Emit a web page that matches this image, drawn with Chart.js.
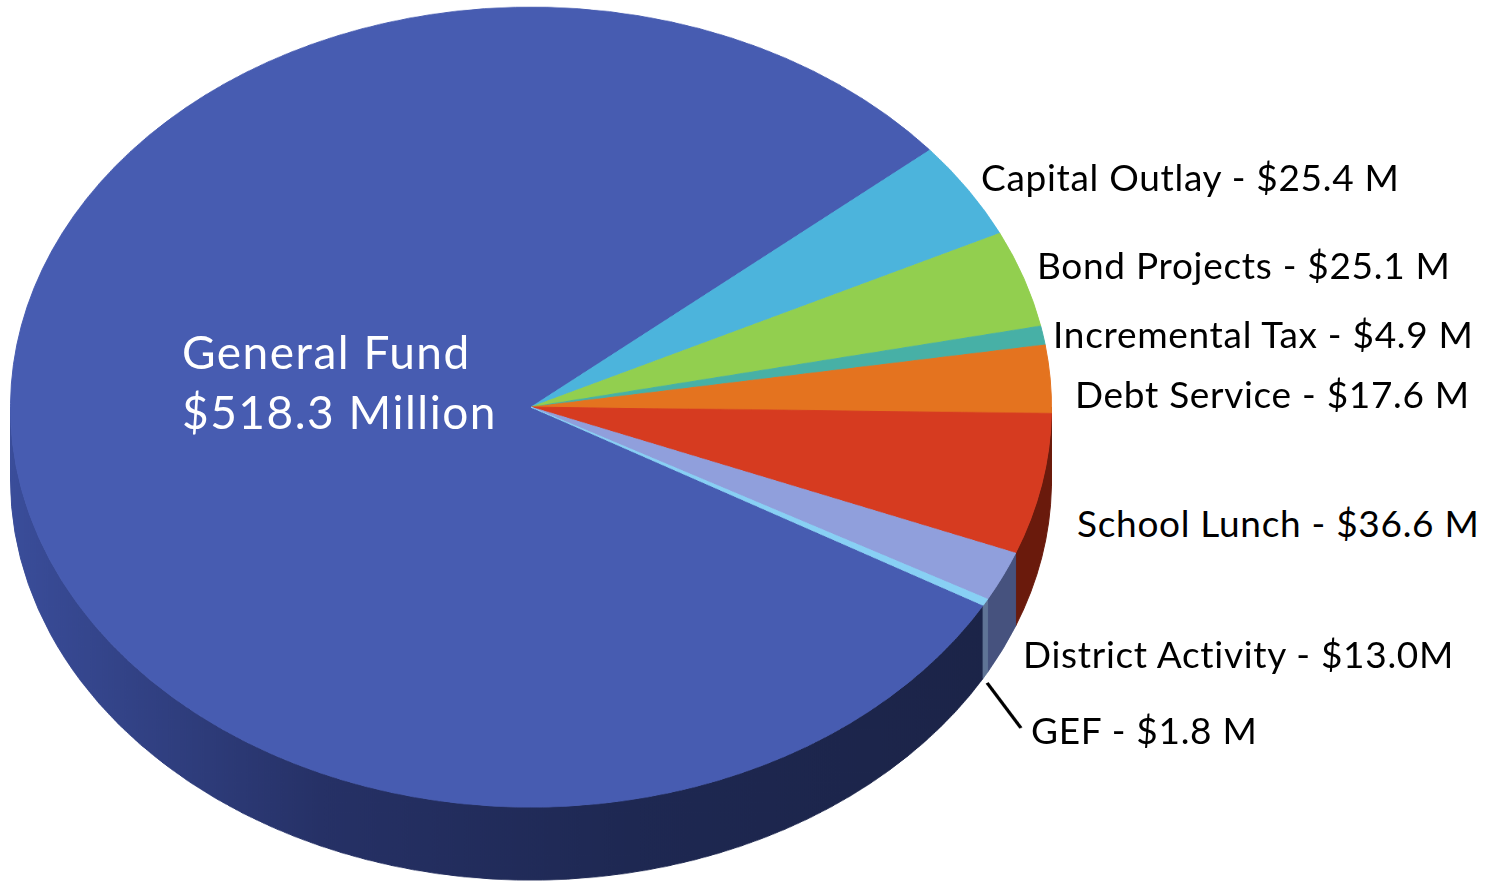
<!DOCTYPE html>
<html>
<head>
<meta charset="utf-8">
<script src="https://cdn.jsdelivr.net/npm/chart.js@4/dist/chart.umd.min.js"></script>
<style>
  html, body { margin: 0; padding: 0; background: #fff; overflow: hidden; }
  body { width: 1495px; height: 884px; position: relative; }
  /* the pie is drawn round and squashed to an ellipse here */
  #pieWrap { position: absolute; left: 0; top: -1px; transform-origin: 0 0; transform: scaleY(0.7685); }
  .lbl { position: absolute; font-family: Lato, "Noto Sans", sans-serif; line-height: 1; white-space: nowrap; color: #000; letter-spacing: 0.7px; }
  .main { color: #fff; letter-spacing: 1.5px; }
</style>
</head>
<body>
<div id="pieWrap"><canvas id="pie" width="1062" height="1170"></canvas></div>
<div id="labels"></div>

<script>
// data (millions of dollars)
var funds = ['General Fund', 'Capital Outlay', 'Bond Projects', 'Incremental Tax', 'Debt Service', 'School Lunch', 'District Activity', 'GEF'];
var amounts = [518.3, 25.4, 25.1, 4.9, 17.6, 36.6, 13.0, 1.8];
var unitText = [' Million', ' M', ' M', ' M', ' M', ' M', 'M', ' M'];

// styles
var topColors = ['#475CB1', '#4CB4DC', '#92CF4F', '#47B0A6', '#E4731F', '#D63B20', '#909FDC', '#88D0F4'];
var sideColors = [null, '#2E7896', '#5E8A2E', '#2E746C', '#8E3E0C', '#6A1A0C', '#46527E', '#5F7496'];
// label anchor: left x, baseline y (screen px), font size
var labelPos = [[182, 370, 46], [981, 191, 37], [1037, 279, 37], [1053, 348, 37], [1075, 408, 37], [1077, 537, 37], [1023, 668, 37], [1031, 744, 37]];

var SY = 0.7685;      // vertical squash of the pie
var TOPOFF = -1;
var DEPTH = 95;       // wall height in canvas px

var sidePlugin = {
  id: 'side',
  beforeDatasetsDraw: function(chart) {
    var ctx = chart.ctx;
    var arcs = chart.getDatasetMeta(0).data;
    var TAU = Math.PI * 2;
    arcs.forEach(function(arc, i) {
      var p = arc.getProps(['x', 'y', 'outerRadius', 'startAngle', 'endAngle'], true);
      var a = p.startAngle % TAU;
      if (a < 0) a += TAU;
      var b = a + (p.endAngle - p.startAngle);
      [[0, Math.PI], [TAU, TAU + Math.PI]].forEach(function(rng) {
        var s = Math.max(a, rng[0]), e = Math.min(b, rng[1]);
        if (e <= s) return;
        var fill;
        if (i === 0) {
          fill = ctx.createLinearGradient(p.x - p.outerRadius, 0, p.x + p.outerRadius, 0);
          fill.addColorStop(0, '#3A4D9A');
          fill.addColorStop(0.3, '#263166');
          fill.addColorStop(0.6, '#1E2852');
          fill.addColorStop(1, '#1B2346');
        } else {
          fill = sideColors[i];
        }
        ctx.save();
        ctx.beginPath();
        ctx.arc(p.x, p.y + DEPTH, p.outerRadius, s, e);
        ctx.arc(p.x, p.y, p.outerRadius, e, s, true);
        ctx.closePath();
        ctx.fillStyle = fill;
        ctx.strokeStyle = fill;
        ctx.lineWidth = 1;
        ctx.fill();
        ctx.stroke();
        ctx.restore();
      });
    });
  },
  afterDatasetsDraw: function(chart) {
    // leader line for the thin GEF slice
    var ctx = chart.ctx;
    var meta = chart.getDatasetMeta(0);
    var k = funds.indexOf('GEF');
    var p = meta.data[k].getProps(['x', 'y', 'outerRadius', 'startAngle', 'endAngle'], true);
    var m = (p.startAngle + p.endAngle) / 2;
    var x0 = p.x + (p.outerRadius + 2) * Math.cos(m);
    var y0 = p.y + DEPTH + (p.outerRadius) * Math.sin(m) + 10;
    var x1 = labelPos[k][0] - 10;
    var y1 = (labelPos[k][1] - 16 - TOPOFF) / SY;
    ctx.save();
    ctx.beginPath();
    ctx.moveTo(x0, y0);
    ctx.lineTo(x1, y1);
    ctx.strokeStyle = '#000';
    ctx.lineWidth = 3.5;
    ctx.stroke();
    ctx.restore();
  }
};

new Chart(document.getElementById('pie').getContext('2d'), {
  type: 'pie',
  data: {
    labels: funds,
    datasets: [{
      data: amounts,
      backgroundColor: topColors,
      borderColor: topColors,
      borderWidth: 1
    }]
  },
  options: {
    responsive: false,
    devicePixelRatio: 1,
    animation: false,
    rotation: 119.7,
    layout: { padding: { left: 10, right: 10, top: 10, bottom: 118 } },
    plugins: {
      legend: { display: false },
      tooltip: { enabled: false }
    }
  },
  plugins: [sidePlugin]
});

// text labels
var box = document.getElementById('labels');
funds.forEach(function(name, i) {
  var pos = labelPos[i];
  var money = '$' + amounts[i].toFixed(1) + unitText[i];
  var lines = i === 0 ? [name, money] : [name + ' - ' + money];
  lines.forEach(function(t, j) {
    var d = document.createElement('div');
    d.className = 'lbl' + (i === 0 ? ' main' : '');
    d.style.fontSize = pos[2] + 'px';
    d.style.left = pos[0] + 'px';
    d.style.top = (pos[1] + j * 60 - 0.887 * pos[2]) + 'px';
    d.textContent = t;
    box.appendChild(d);
  });
});
</script>
</body>
</html>
